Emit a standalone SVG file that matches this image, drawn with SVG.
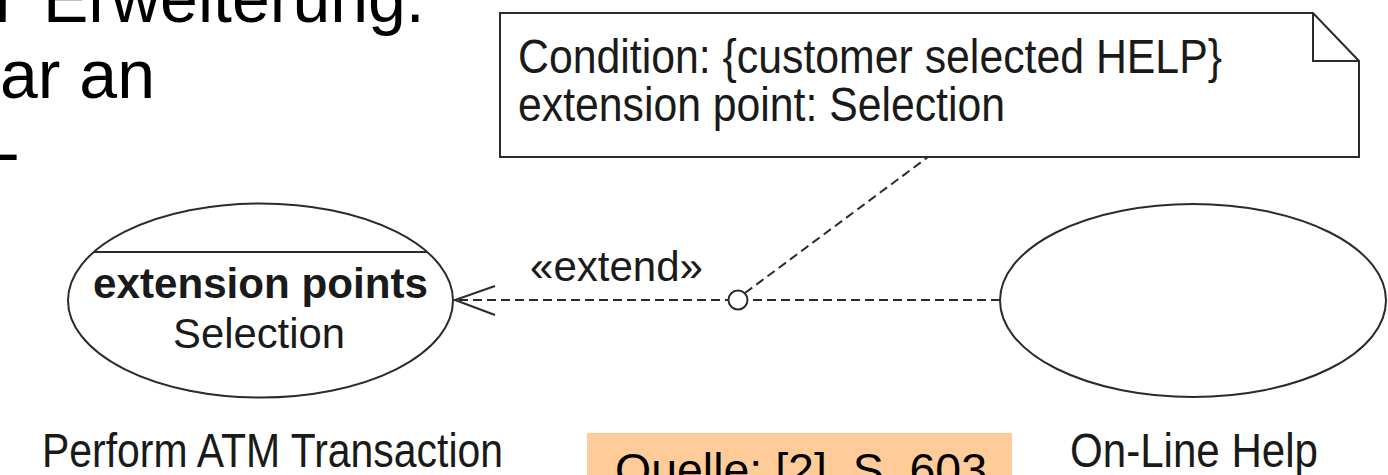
<svg xmlns="http://www.w3.org/2000/svg" width="1388" height="475" viewBox="0 0 1388 475">
  <style>
    .slide { font-family: "Liberation Sans", Arial, sans-serif; font-size: 68px; fill: #000; }
    .uml { font-family: "Liberation Sans", Arial, sans-serif; fill: #1a1a1a; }
    .shape { fill: #fff; stroke: #2b2b2b; stroke-width: 2; }
    .line { fill: none; stroke: #2b2b2b; stroke-width: 2; }
    .dash { fill: none; stroke: #2b2b2b; stroke-width: 2; stroke-dasharray: 9 5; }
  </style>

  <!-- slide body text, running past the page edge -->
  <g id="slide-text">
    <text class="slide" x="-5" y="22">r<tspan x="43">Erweiterung.</tspan></text>
    <text class="slide" x="0" y="98">ar an</text>
    <text class="slide" x="-3" y="176">-</text>
  </g>

  <!-- note with folded corner -->
  <g id="note">
    <path class="shape" d="M500,13 H1313 L1359,61 V157 H500 Z"/>
    <path class="line" d="M1313,13 V61 H1359"/>
    <text class="uml" x="518" y="73" font-size="48" textLength="704" lengthAdjust="spacingAndGlyphs">Condition: {customer selected HELP}</text>
    <text class="uml" x="518" y="121" font-size="48" textLength="487" lengthAdjust="spacingAndGlyphs">extension point: Selection</text>
  </g>

  <!-- base use case with extension point compartment -->
  <g id="perform-atm-transaction">
    <ellipse class="shape" cx="260.5" cy="300.5" rx="192.5" ry="97"/>
    <line class="line" x1="94" y1="252" x2="427" y2="252"/>
    <text class="uml" x="260.5" y="298" font-size="42" font-weight="bold" text-anchor="middle" textLength="335" lengthAdjust="spacingAndGlyphs">extension points</text>
    <text class="uml" x="259" y="348" font-size="42" text-anchor="middle" textLength="172" lengthAdjust="spacingAndGlyphs">Selection</text>
    <text class="uml" x="42" y="467" font-size="48" textLength="461" lengthAdjust="spacingAndGlyphs">Perform ATM Transaction</text>
  </g>

  <!-- extending use case -->
  <g id="on-line-help">
    <ellipse class="shape" cx="1193" cy="300.5" rx="193" ry="96.5"/>
    <text class="uml" x="1070" y="467" font-size="48" textLength="248" lengthAdjust="spacingAndGlyphs">On-Line Help</text>
  </g>

  <!-- extend relationship, condition anchor -->
  <g id="connectors">
    <line class="dash" x1="1000" y1="300" x2="456" y2="300"/>
    <polyline class="line" points="495,286 455,300 495,315"/>
    <line class="dash" x1="745" y1="293" x2="928" y2="157"/>
    <circle class="shape" cx="738" cy="300" r="9.5"/>
    <text class="uml" x="530" y="281" font-size="42" textLength="173" lengthAdjust="spacingAndGlyphs">«extend»</text>
  </g>

  <!-- source reference -->
  <g id="source">
    <rect x="587" y="433" width="425" height="50" fill="#ffcc99"/>
    <text class="slide" x="615" y="486" textLength="372" lengthAdjust="spacingAndGlyphs" style="font-size:46px">Quelle: [2], S. 603</text>
  </g>
</svg>
